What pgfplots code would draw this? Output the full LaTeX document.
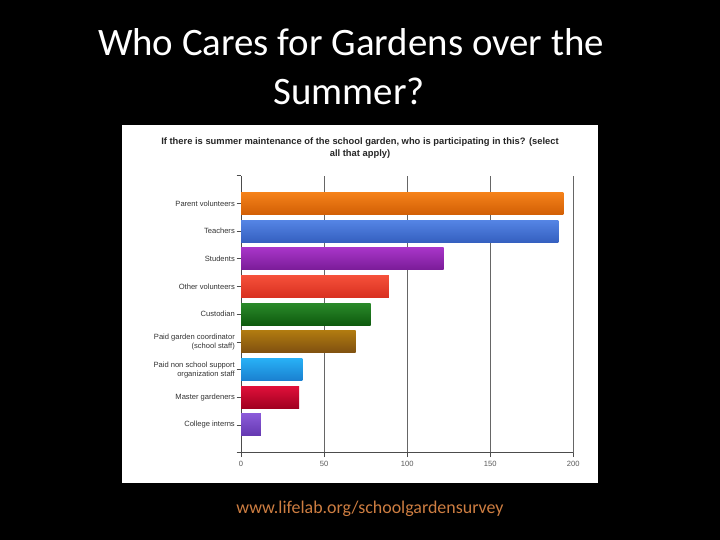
\documentclass[border=0pt]{standalone}
\usepackage{pgfplots}
\pgfplotsset{compat=1.18}
\usepackage{fontspec}
\setmainfont{Carlito}
\newfontfamily\arialf{Liberation Sans}

\definecolor{orTop}{HTML}{F5821A}\definecolor{orBot}{HTML}{D25F05}
\definecolor{blTop}{HTML}{5585E5}\definecolor{blBot}{HTML}{3560C0}
\definecolor{puTop}{HTML}{A835C8}\definecolor{puBot}{HTML}{7A1C98}
\definecolor{reTop}{HTML}{F5503A}\definecolor{reBot}{HTML}{D83020}
\definecolor{grTop}{HTML}{2A8A2A}\definecolor{grBot}{HTML}{0E5A0E}
\definecolor{brTop}{HTML}{B07A10}\definecolor{brBot}{HTML}{7F5010}
\definecolor{lbTop}{HTML}{28B0F5}\definecolor{lbBot}{HTML}{1A80D0}
\definecolor{crTop}{HTML}{E0103A}\definecolor{crBot}{HTML}{A00020}
\definecolor{viTop}{HTML}{8A5AD8}\definecolor{viBot}{HTML}{6438B0}
\definecolor{footer}{RGB}{205,125,65}

\begin{document}
\begin{tikzpicture}
% slide background and chart panel
\fill[black] (0bp,0bp) rectangle (720bp,540bp);
\path[use as bounding box] (0bp,0bp) rectangle (720bp,540bp);
\fill[white] (122bp,57bp) rectangle (598bp,415bp);

\node[anchor=base, text=white, inner sep=0, font=\fontsize{39}{47}\selectfont] at (351bp,484.3bp) {Who Cares for Gardens over the};
\node[anchor=base, text=white, inner sep=0, font=\fontsize{39}{47}\selectfont] at (349bp,435bp) {Summer?};
\node[anchor=base, text=footer, inner sep=0, font=\fontsize{18}{21}\selectfont] at (370bp,27bp) {www.lifelab.org/schoolgardensurvey};

\node[anchor=base, inner sep=0, text=black!85, font=\arialf\bfseries\fontsize{9.4}{11}\selectfont] at (360bp,395bp) {If there is summer maintenance of the school garden, who is participating in this? (select};
\node[anchor=base, inner sep=0, text=black!85, font=\arialf\bfseries\fontsize{9.4}{11}\selectfont] at (360bp,383bp) {all that apply)};

\begin{axis}[
  at={(241bp,87.3bp)}, anchor=south west,
  scale only axis, width=332.3bp, height=277bp,
  xmin=0, xmax=200, ymin=0, ymax=10,
  axis lines*=left,
  axis line style={draw=black!70, line width=0.8bp},
  xtick={0,50,100,150,200},
  ytick={0,...,10},
  yticklabels={{},College interns,Master gardeners,{Paid non school support\\organization staff},{Paid garden coordinator\\(school staff)},Custodian,Other volunteers,Students,Teachers,Parent volunteers,{}},
  tick align=outside,
  major tick length=4.5bp,
  tick style={draw=black!70, line width=0.7bp},
  xmajorgrids,
  grid style={draw=black!60, line width=0.8bp},
  /pgf/number format/assume math mode=true,
  yticklabel style={font=\arialf\fontsize{7.6}{9}\selectfont, text=black!80, align=right, inner sep=1.5bp},
  xticklabel style={font=\arialf\fontsize{7.6}{9}\selectfont, text=black!65},
  xbar, bar width=22bp, bar shift=0pt,
]
\addplot[draw=none, top color=orTop, bottom color=orBot] coordinates {(194,9)};
\addplot[draw=none, top color=blTop, bottom color=blBot] coordinates {(191,8)};
\addplot[draw=none, top color=puTop, bottom color=puBot] coordinates {(122,7)};
\addplot[draw=none, top color=reTop, bottom color=reBot] coordinates {(89,6)};
\addplot[draw=none, top color=grTop, bottom color=grBot] coordinates {(78,5)};
\addplot[draw=none, top color=brTop, bottom color=brBot] coordinates {(69,4)};
\addplot[draw=none, top color=lbTop, bottom color=lbBot] coordinates {(37,3)};
\addplot[draw=none, top color=crTop, bottom color=crBot] coordinates {(35,2)};
\addplot[draw=none, top color=viTop, bottom color=viBot] coordinates {(12,1)};
\end{axis}
\end{tikzpicture}
\end{document}
